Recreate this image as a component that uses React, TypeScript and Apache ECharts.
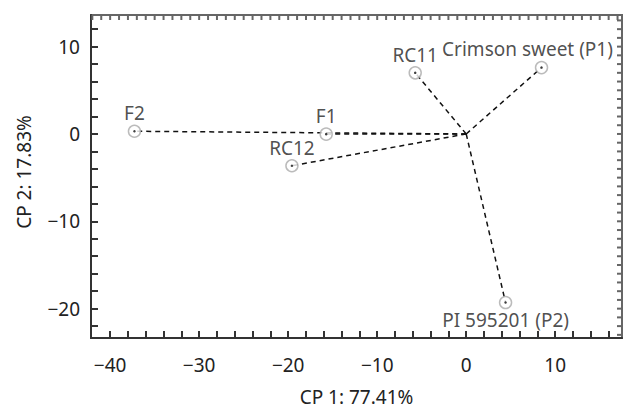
import React, { useEffect, useRef } from "react";
import * as echarts from "echarts";

const names = ["F2", "RC12", "F1", "RC11", "Crimson sweet (P1)", "PI 595201 (P2)"];
const cp1 = [-37.27, -19.58, -15.73, -5.73, 8.46, 4.42];
const cp2 = [0.31, -3.64, -0.02, 7.0, 7.6, -19.3];
const xLabelTicks = [-40, -30, -20, -10, 0, 10];
const yLabelTicks = [-20, -10, 0, 10];
const origin = [0, 0];

const range = (a: number, b: number, s: number) => {
  const r: number[] = [];
  for (let v = a; v <= b + 1e-9; v += s) r.push(Math.round(v * 100) / 100);
  return r;
};

const bottomTicks = range(-40, 16, 2);
const topTicks = range(-42, 17, 1);
const leftTicks = range(-22, 12, 2);
const rightTicks = range(-23, 13, 1);

const FONT = "Noto Sans";
const TXT = "#222";
const FS = 19;

export default function App() {
  const ref = useRef<HTMLDivElement>(null);
  useEffect(() => {
    if (!ref.current) return;
    const chart = echarts.init(ref.current, null, { renderer: "svg" });
    const xMin = -42.15, xMax = 17.5, yMin = -23.36, yMax = 13.62;
    const labelPos = names.map((n, i) => {
      if (i === 5) return { position: "bottom", distance: 1 };
      if (i === 4) return { position: "top", distance: 2, offset: [-14, 0] };
      return { position: "top", distance: 2 };
    });
    const frameTicks = [...topTicks.map((v) => [1, v]), ...rightTicks.map((v) => [3, v])];
    const fmt = (v: number) => String(v).replace("-", "\u2212");
    chart.setOption({
      animation: false,
      grid: { left: 91, right: 5, top: 15, bottom: 66, show: true, borderColor: "#666", borderWidth: 2, backgroundColor: "transparent" },
      xAxis: {
        type: "value",
        min: xMin,
        max: xMax,
        name: "CP 1: 77.41%",
        nameLocation: "middle",
        nameGap: 49,
        nameTextStyle: { fontFamily: FONT, fontSize: FS, color: TXT },
        splitLine: { show: false },
        axisLine: { show: true, onZero: false, lineStyle: { color: "#333", width: 2 } },
        axisTick: { show: true, inside: true, length: 7, customValues: bottomTicks, lineStyle: { color: "#333", width: 2 } },
        axisLabel: { customValues: xLabelTicks, margin: 17, fontFamily: FONT, fontSize: FS, color: TXT, formatter: fmt },
      },
      yAxis: {
        type: "value",
        min: yMin,
        max: yMax,
        splitLine: { show: false },
        axisLine: { show: true, onZero: false, lineStyle: { color: "#333", width: 2 } },
        axisTick: { show: true, inside: true, length: 7, customValues: leftTicks, lineStyle: { color: "#333", width: 2 } },
        axisLabel: { customValues: yLabelTicks, margin: 11, fontFamily: FONT, fontSize: FS, color: TXT, formatter: fmt },
      },
      graphic: [
        {
          type: "text",
          x: 24,
          y: 172,
          rotation: Math.PI / 2,
          style: { text: "CP 2: 17.83%", fontFamily: FONT, fontSize: FS, fill: TXT, align: "center", verticalAlign: "middle" },
        },
      ],
      series: [
        {
          type: "custom",
          coordinateSystem: "cartesian2d",
          silent: true,
          clip: false,
          data: frameTicks,
          renderItem: (params: any, api: any) => {
            const side = api.value(0);
            const v = api.value(1);
            let p: number[], q: number[];
            if (side === 1) {
              p = api.coord([v, yMax]);
              q = [p[0], p[1] + 5];
            } else {
              p = api.coord([xMax, v]);
              q = [p[0] - 5, p[1]];
            }
            return {
              type: "line",
              shape: { x1: p[0], y1: p[1], x2: q[0], y2: q[1] },
              style: { stroke: "#666", lineWidth: 2 },
            };
          },
          z: 2,
        },
        {
          type: "lines",
          coordinateSystem: "cartesian2d",
          silent: true,
          lineStyle: { color: "#111", width: 1.5, type: [5, 4], opacity: 1 },
          data: names.map((n, i) => ({ coords: [origin, [cp1[i], cp2[i]]] })),
          z: 1,
        },
        {
          type: "scatter",
          symbol: "circle",
          symbolSize: 12,
          itemStyle: { color: "#fff", borderColor: "#aaa", borderWidth: 1.5 },
          label: { show: true, fontFamily: FONT, fontSize: FS, color: TXT, formatter: (p: any) => p.name },
          data: names.map((n, i) => ({ name: n, value: [cp1[i], cp2[i]], label: labelPos[i] })),
          z: 3,
        },
        {
          type: "scatter",
          symbol: "circle",
          symbolSize: 2.5,
          itemStyle: { color: "#111" },
          data: names.map((n, i) => [cp1[i], cp2[i]]),
          z: 4,
        },
      ],
    });
    return () => chart.dispose();
  }, []);
  return <div ref={ref} style={{ width: 627, height: 411, position: "absolute", left: 0, top: 0, background: "#fff" }} />;
}
